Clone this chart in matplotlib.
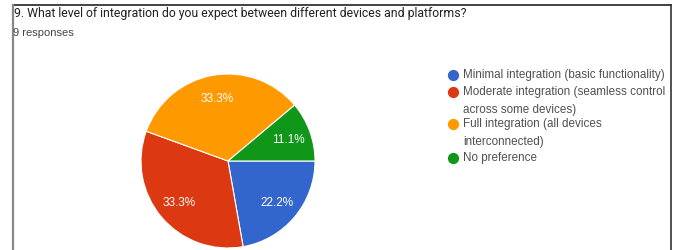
import matplotlib
matplotlib.use("Agg")
import matplotlib.pyplot as plt
from matplotlib.lines import Line2D
from matplotlib.patches import Rectangle

# данные опроса
title = "9. What level of integration do you expect between different devices and platforms?"
subtitle = "9 responses"
categories = [
    "Minimal integration (basic functionality)",
    "Moderate integration (seamless control\nacross some devices)",
    "Full integration (all devices\ninterconnected)",
    "No preference",
]
counts = [2, 3, 3, 1]
colors = ["#3366cc", "#dc3912", "#ff9900", "#109618"]

W, H = 679, 251
fig = plt.figure(figsize=(W / 100, H / 100), dpi=100)
plt.rcParams['font.family'] = ['Liberation Sans', 'DejaVu Sans']


def px(x, y):
    # пиксели (от верхнего левого угла) -> координаты фигуры
    return x / W, 1 - y / H


# пирог
cx, cy, r = 228, 162, 87
ax = fig.add_axes([(cx - r) / W, (H - cy - r) / H, 2 * r / W, 2 * r / H])
wedges, texts, autotexts = ax.pie(
    counts, colors=colors, startangle=0, counterclock=False,
    autopct="%1.1f%%", pctdistance=0.74,
    wedgeprops=dict(edgecolor="white", linewidth=0.8),
    textprops=dict(color="white", fontsize=8.5),
)
ax.set_xlim(-1, 1)
ax.set_ylim(-1, 1)
ax.set_aspect("equal")

# заголовок, размер подгоняется под ширину ~450 px
t = fig.text(*px(14, 14), title, fontsize=11, color="#202124",
             family=['Roboto', 'DejaVu Sans'], va="center", ha="left")
fig.canvas.draw()
bb = t.get_window_extent()
t.set_fontsize(11 * 452 / bb.width)
fig.text(*px(13, 33), subtitle, fontsize=8, color="#444444", va="center", ha="left")

# легенда
overlay = fig.add_axes([0, 0, 1, 1], facecolor="none")
overlay.set_xlim(0, W)
overlay.set_ylim(H, 0)
overlay.axis("off")
rows = [76, 93, 125, 159]
for label, color, y in zip(categories, colors, rows):
    overlay.scatter([453], [y], s=50, color=color, zorder=3)
    overlay.text(463, y - 6.5, label, fontsize=8.4, color="#505050", va="top",
                 ha="left", linespacing=1.62)

# рамка скриншота
overlay.add_patch(Rectangle((672, 0), 10, H, color="white", zorder=5))
overlay.add_line(Line2D([12.5, 671], [6, 6], color="#222222", lw=1.2, zorder=6))
overlay.add_line(Line2D([12.5, 12.5], [6, H], color="#888888", lw=1.6, zorder=6))
overlay.add_line(Line2D([671, 671], [6, H], color="#333333", lw=1.2, zorder=6))

fig.savefig("out.png", dpi=100, facecolor="white")
